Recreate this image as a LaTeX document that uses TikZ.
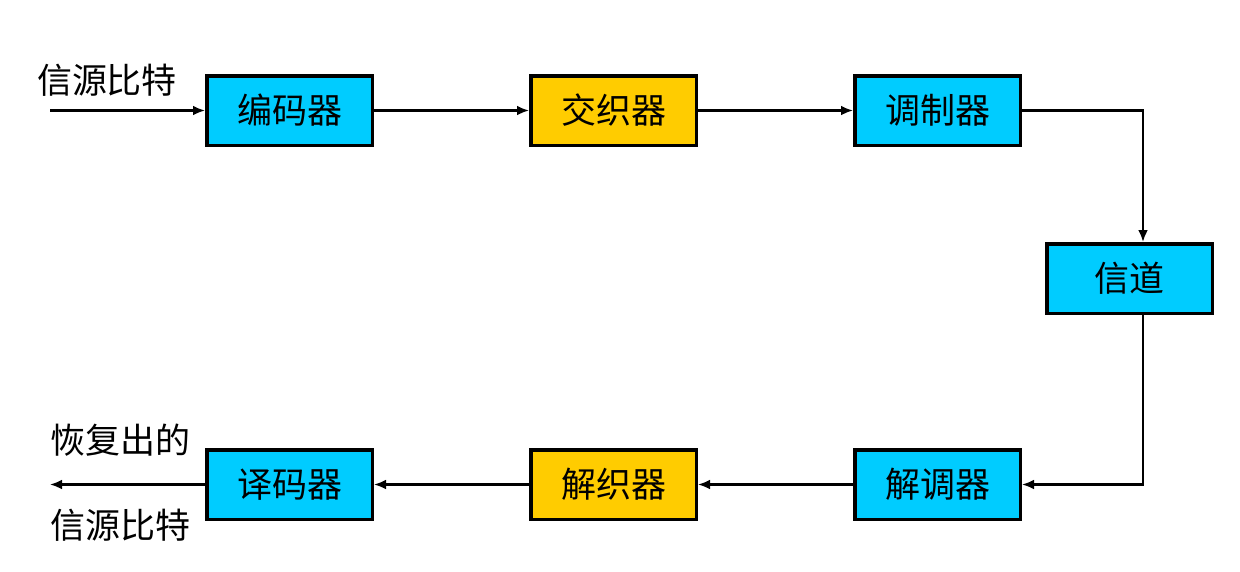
\documentclass[tikz,border=0pt]{standalone}
\usepackage{fontspec}
\newfontfamily\cjk{Noto Sans CJK SC}
\usetikzlibrary{arrows.meta}
\definecolor{boxcyan}{RGB}{0,204,255}
\definecolor{boxgold}{RGB}{255,204,0}
\begin{document}
\begin{tikzpicture}[x=1pt,y=-1pt,-{Latex[length=12pt,width=10pt]},line width=2.7pt,node distance=324pt,
	box/.style={rectangle,draw,line width=3.5pt,minimum width=165.5pt,minimum height=69.5pt,font=\cjk\fontsize{35}{35}\selectfont},
	lbl/.style={font=\cjk\fontsize{35}{35}\selectfont}]
	\useasboundingbox (0,0) rectangle (1240,571);
	\node[box,fill=boxcyan]	(enc)	at (289.5,110.5)	{编码器};
	\node[box,fill=boxgold]	(ilv)	[right of=enc]	{交织器};
	\node[box,fill=boxcyan]	(mod)	[right of=ilv]	{调制器};
	\node[box,fill=boxcyan]	(chan)	at (1129.5,278.5)	{信道};
	\node[box,fill=boxcyan]	(demod)	at (937.5,484.5)	{解调器};
	\node[box,fill=boxgold]	(dilv)	[left of=demod]	{解织器};
	\node[box,fill=boxcyan]	(dec)	[left of=dilv]	{译码器};
	\node[lbl]	(src)	at (107,80)	{信源比特};
	\node[lbl]	(rec1)	at (120,440)	{恢复出的};
	\node[lbl]	(rec2)	at (120,525)	{信源比特};
	\coordinate	(in)	at (50,110.5);
	\coordinate	(out)	at (50,484.5);
	\path
	(in) edge	(enc)
	(enc) edge	(ilv)
	(ilv) edge	(mod)
	(demod) edge	(dilv)
	(dilv) edge	(dec)
	(dec) edge	(out)
	;
	\draw (mod.east) -| ([xshift=13.5pt]chan.north);
	\draw ([xshift=13.5pt]chan.south) |- (demod.east);
\end{tikzpicture}
\end{document}
